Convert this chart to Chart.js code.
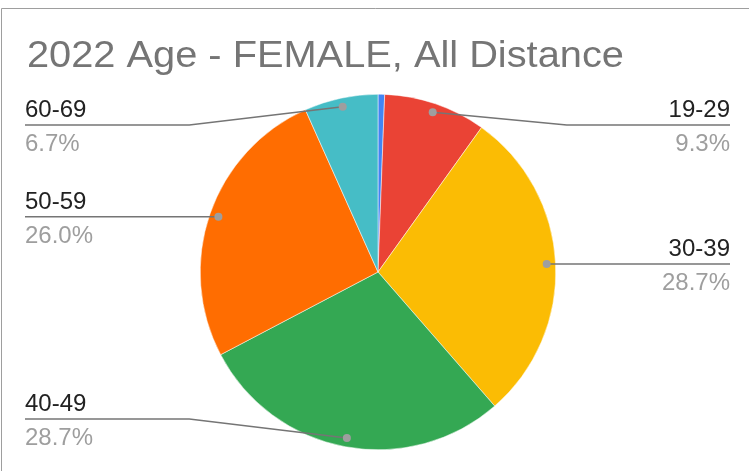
<!DOCTYPE html>
<html>
<head>
<meta charset="utf-8">
<script src="https://cdn.jsdelivr.net/npm/chart.js@4"></script>
<style>
  html, body { margin: 0; padding: 0; background: #fff; }
  #wrap { width: 749px; height: 471px; position: relative; }
</style>
</head>
<body>
<div id="wrap"><canvas id="chart" width="749" height="471"></canvas></div>
<script>
// Данные графика
const chartTitle = "2022 Age - FEMALE, All Distance";
const ageGroups = ["Under 19", "19-29", "30-39", "40-49", "50-59", "60-69"];
const shares = [0.6, 9.3, 28.7, 28.7, 26.0, 6.7];
const shownLabels = [false, true, true, true, true, true];
const sliceColors = ["#4285f4", "#ea4335", "#fbbc04", "#34a853", "#ff6d01", "#46bdc6"];

// Заголовок, рамка и подписи с выносками
const calloutPlugin = {
  id: "callouts",
  beforeDraw(chart) {
    const ctx = chart.ctx;
    ctx.save();
    ctx.strokeStyle = "#9e9e9e";
    ctx.lineWidth = 1;
    ctx.beginPath();
    ctx.moveTo(1.5, 471);
    ctx.lineTo(1.5, 8.5);
    ctx.lineTo(749, 8.5);
    ctx.stroke();

    // заголовок немного растянут по горизонтали, как в оригинале
    ctx.fillStyle = "#757575";
    ctx.font = "37px 'Liberation Sans', Arial, sans-serif";
    ctx.textBaseline = "alphabetic";
    ctx.textAlign = "left";
    ctx.translate(27, 67);
    ctx.scale(1.075, 1);
    ctx.fillText(chartTitle, 0, 0);
    ctx.restore();
  },
  afterDraw(chart) {
    const ctx = chart.ctx;
    const area = chart.chartArea;
    const meta = chart.getDatasetMeta(0);
    ctx.save();
    meta.data.forEach((arc, i) => {
      if (!shownLabels[i]) return;
      const mid = (arc.startAngle + arc.endAngle) / 2;
      const r = arc.outerRadius * 0.95;
      const dx = arc.x + Math.cos(mid) * r;
      const dy = arc.y + Math.sin(mid) * r;
      const right = Math.cos(mid) > 0;
      const lineY = Math.min(Math.max(dy, area.top + 31), area.bottom - 31);
      const bendX = right ? arc.x + arc.outerRadius + 11 : arc.x - arc.outerRadius - 11;
      const endX = right ? 730 : 25;

      ctx.strokeStyle = "#757575";
      ctx.lineWidth = 1.5;
      ctx.beginPath();
      ctx.moveTo(endX, lineY);
      if (Math.abs(lineY - dy) > 0.5) {
        ctx.lineTo(bendX, lineY);
      }
      ctx.lineTo(dx, dy);
      ctx.stroke();

      ctx.fillStyle = "#9e9e9e";
      ctx.beginPath();
      ctx.arc(dx, dy, 4, 0, Math.PI * 2);
      ctx.fill();

      ctx.textAlign = right ? "right" : "left";
      ctx.textBaseline = "alphabetic";
      ctx.font = "24px 'Liberation Sans', Arial, sans-serif";
      ctx.fillStyle = "#222222";
      ctx.fillText(ageGroups[i], endX, lineY - 8);
      ctx.fillStyle = "#9e9e9e";
      ctx.fillText(shares[i].toFixed(1) + "%", endX, lineY + 26);
    });
    ctx.restore();
  }
};

const ctx = document.getElementById("chart").getContext("2d");
new Chart(ctx, {
  type: "pie",
  data: {
    labels: ageGroups,
    datasets: [
      {
        data: shares,
        backgroundColor: sliceColors,
        borderColor: "#ffffff",
        borderWidth: 0.5,
      },
    ],
  },
  options: {
    responsive: false,
    animation: false,
    layout: {
      padding: { top: 94, bottom: 21, left: 200, right: 193 },
    },
    plugins: {
      legend: { display: false },
      title: { display: false },
      tooltip: { enabled: false },
    },
  },
  plugins: [calloutPlugin],
});
</script>
</body>
</html>
